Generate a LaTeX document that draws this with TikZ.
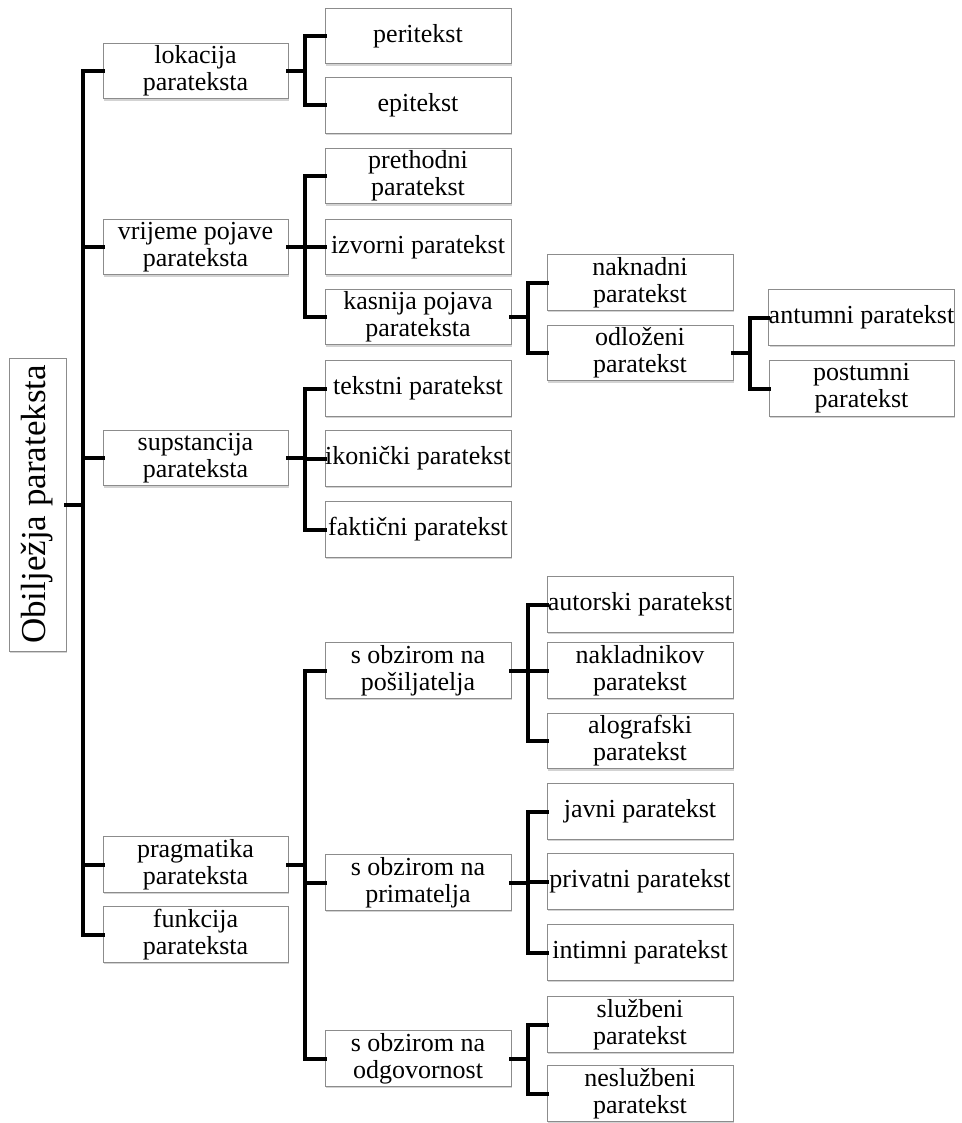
\documentclass[tikz,border=0pt]{standalone}
\usepackage{fontspec}
\setmainfont{Liberation Serif}
\usetikzlibrary{shadows}
\tikzset{
  box/.style={draw=black!45, line width=0.8pt, fill=white, align=center, inner sep=0pt,
    minimum height=55.5pt, font=\fontsize{26}{27}\selectfont,
    drop shadow={opacity=0.35, shadow xshift=1.2pt, shadow yshift=-1.8pt}},
  wA/.style={minimum width=185pt},
  wB/.style={minimum width=186pt},
  link/.style={line width=4pt, black, line cap=rect},
}
\begin{document}
\begin{tikzpicture}[x=1pt, y=-1pt]
\useasboundingbox (0,0) rectangle (961,1123);
% root
\node[box, rotate=90, minimum width=293pt, minimum height=57pt,
  font=\fontsize{35}{36}\selectfont] (root) at (37.5,504.5) {Obilježja parateksta};
% level 1
\node[box,wA] (lok) at (195.5,71) {lokacija\\parateksta};
\node[box,wA] (vri) at (195.5,247) {vrijeme pojave\\parateksta};
\node[box,wA] (sup) at (195.5,458) {supstancija\\parateksta};
\node[box,wA] (pra) at (195.5,864.5) {pragmatika\\parateksta};
\node[box,wA] (fun) at (195.5,934.5) {funkcija\\parateksta};
% level 2
\node[box,wB] (per) at (418,36) {peritekst};
\node[box,wB] (epi) at (418,105.5) {epitekst};
\node[box,wB] (pre) at (418,176) {prethodni\\paratekst};
\node[box,wB] (izv) at (418,247) {izvorni paratekst};
\node[box,wB] (kas) at (418,317) {kasnija pojava\\parateksta};
\node[box,wB] (tek) at (418,388.5) {tekstni paratekst};
\node[box,wB] (iko) at (418,458.5) {ikonički paratekst};
\node[box,wB] (fak) at (418,529.5) {faktični paratekst};
\node[box,wB] (pos) at (418,670.5) {s obzirom na\\pošiljatelja};
\node[box,wB] (pri) at (418,882.5) {s obzirom na\\primatelja};
\node[box,wB] (odg) at (418,1058.5) {s obzirom na\\odgovornost};
% level 3
\node[box,wB] (nak) at (640,282.5) {naknadni\\paratekst};
\node[box,wB] (odl) at (640,353) {odloženi\\paratekst};
\node[box,wB] (aut) at (640,604.5) {autorski paratekst};
\node[box,wB] (nkl) at (640,670.5) {nakladnikov\\paratekst};
\node[box,wB] (alo) at (640,741) {alografski\\paratekst};
\node[box,wB] (jav) at (640,811.5) {javni paratekst};
\node[box,wB] (priv) at (640,881.5) {privatni paratekst};
\node[box,wB] (int) at (640,952.5) {intimni paratekst};
\node[box,wB] (slu) at (640,1024.5) {službeni\\paratekst};
\node[box,wB] (nsl) at (640,1093.5) {neslužbeni\\paratekst};
% level 4
\node[box,wA] (ant) at (861.5,317.5) {antumni paratekst};
\node[box,wA] (pst) at (861.5,388.5) {postumni\\paratekst};
% connectors
\foreach \c in {lok, vri, sup, pra, fun}
  \draw[link] (root.south) -- ++(17,0) |- (\c.west);
\foreach \p/\c in {lok/per, lok/epi, vri/pre, vri/izv, vri/kas, kas/nak, kas/odl, odl/ant, odl/pst,
  sup/tek, sup/iko, sup/fak, pra/pos, pra/pri, pra/odg,
  pos/aut, pos/nkl, pos/alo, pri/jav, pri/priv, pri/int, odg/slu, odg/nsl}
  \draw[link] (\p.east) -- ++(17,0) |- (\c.west);
\end{tikzpicture}
\end{document}
